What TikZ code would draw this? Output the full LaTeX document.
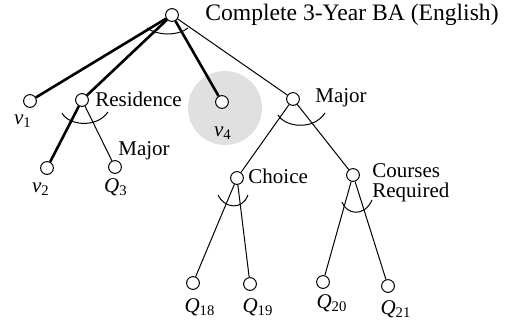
\documentclass[tikz,border=0pt]{standalone}
\usepackage{fontspec}
\setmainfont{Liberation Serif}
\tikzset{
  gnode/.style    = {shape=circle, draw, fill=white, inner sep=0pt,
                     minimum size=6.4pt, line width=0.5pt},
  tag/.style      = {inner sep=0pt, font=\fontsize{10.5}{10}\selectfont},
  headline/.style = {tag, font=\fontsize{11.8}{13}\selectfont},
  link/.style     = {line width=0.5pt},
  chosen/.style   = {line width=1.3pt},
  andarc/.style   = {line width=0.5pt}
}
\newcommand{\subvar}[2]{\textit{#1}\textsubscript{#2}}

\begin{document}
\begin{tikzpicture}[x=0.5pt, y=-0.5pt]
  \useasboundingbox (0,0) rectangle (508,323);

  % shaded leaf
  \fill[black!12] (225,108) circle (18.5pt);

  % nodes
  \node[gnode] (root) at (172,15) {};
  \node[gnode] (v1)   at (30,101) {};
  \node[gnode] (res)  at (82,100) {};
  \node[gnode] (v4)   at (222,102) {};
  \node[gnode] (maj)  at (293,99) {};
  \node[gnode] (v2)   at (47,168) {};
  \node[gnode] (q3)   at (115,167) {};
  \node[gnode] (cho)  at (237,178) {};
  \node[gnode] (crs)  at (353,175) {};
  \node[gnode] (q18)  at (193,283) {};
  \node[gnode] (q19)  at (250,284) {};
  \node[gnode] (q20)  at (323,282) {};
  \node[gnode] (q21)  at (388,286) {};

  % labels
  \node[headline, anchor=west] (tRoot) at (205,15) {Complete 3-Year BA (English)};
  \node[tag, anchor=west] (tRes)  at (95,99)   {Residence};
  \node[tag, anchor=west] (tMaj)  at (315,98)  {Major};
  \node[tag, anchor=west] (tMaj2) at (118,151) {Major};
  \node[tag, anchor=west] (tCho)  at (248,176) {Choice};
  \node[tag, anchor=west, align=left] (tCrs) at (372,183) {Courses\\Required};
  \node[tag] (tv1)  at (23,121)  {\subvar{v}{1}};
  \node[tag] (tv4)  at (223,133) {\subvar{v}{4}};
  \node[tag] (tv2)  at (41,189)  {\subvar{v}{2}};
  \node[tag] (tq3)  at (116,187) {\subvar{Q}{3}};
  \node[tag] (tq18) at (200,307) {\subvar{Q}{18}};
  \node[tag] (tq19) at (258,307) {\subvar{Q}{19}};
  \node[tag] (tq20) at (332,303) {\subvar{Q}{20}};
  \node[tag] (tq21) at (396,309) {\subvar{Q}{21}};

  % edges
  \draw[chosen] (root) -- (v1);
  \draw[chosen] (root) -- (res);
  \draw[chosen] (root) -- (v4);
  \draw[link]   (root) -- (maj);
  \draw[chosen] (res) -- (v2);
  \draw[link]   (res) -- (q3);
  \draw[link]   (maj) -- (cho);
  \draw[link]   (maj) -- (crs);
  \draw[link]   (cho) -- (q18);
  \draw[link]   (cho) -- (q19);
  \draw[link]   (crs) -- (q20);
  \draw[link]   (crs) -- (q21);

  % and-arcs
  \draw[andarc] (147,28) .. controls (158,36) and (178,36) .. (188,28);
  \draw[andarc] (62,113) .. controls (68,125) and (96,129) .. (108,112);
  \draw[andarc] (278,115) .. controls (285,127) and (313,131) .. (325,113);
  \draw[andarc] (218,195) .. controls (224,208) and (242,211) .. (248,195);
  \draw[andarc] (342,202) .. controls (346,214) and (364,218) .. (372,200);
\end{tikzpicture}
\end{document}
